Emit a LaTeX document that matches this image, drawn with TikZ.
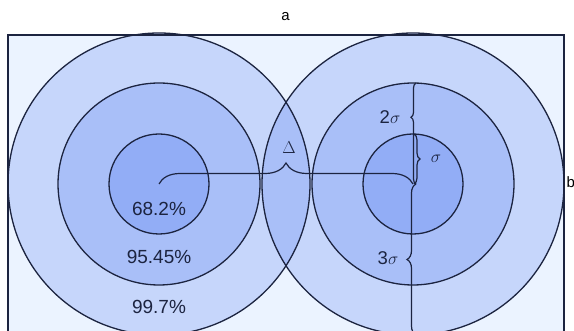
\documentclass[tikz,border=0pt]{standalone}
\usepackage{fontspec}
\setmainfont{Liberation Sans}
\usetikzlibrary{decorations.pathreplacing, calc}
\definecolor{gsink}{HTML}{1C2440}
\definecolor{gsdisc}{HTML}{436FF1}
\definecolor{gsback}{HTML}{EBF3FF}

\begin{document}
\begin{tikzpicture}[x=1pt, y=-1pt, line width=1.3pt,
      disc/.style={fill=gsdisc, fill opacity=.22},
      rim/.style={draw=gsink},
      pct/.style={font=\fontsize{19}{22}\selectfont, text=gsink, inner sep=0pt},
      grk/.style={font=\fontsize{18.5}{21}\selectfont, text=gsink, inner sep=0pt},
      axl/.style={font=\fontsize{15}{18}\selectfont, text=black, inner sep=0pt},
      brc/.style={draw=gsink, line width=1.2pt, decorate, decoration={brace, amplitude=#1}},
      brc/.default=6]

      \useasboundingbox (0,0) rectangle (574,331);
      \fill[gsback] (8,35) rectangle (564,345);

      \coordinate (lc) at (159,184);
      \coordinate (rc) at (413,184);
      \foreach \c in {lc,rc} \foreach \r in {151,101,50} \fill[disc] (\c) circle (\r);
      \foreach \c in {lc,rc} \foreach \r in {151,101,50} \draw[rim] (\c) circle (\r);
      \draw[gsink, line width=1.8pt] (8,345) |- (564,35) -- (564,345);

      \coordinate (rcw) at ($(rc)+(3,0)$);
      \coordinate (mtop) at ($(rc)+(3,-101)$);
      \coordinate (itop) at ($(rc)+(1,-50)$);
      \coordinate (icen) at ($(rc)+(1,0)$);
      \coordinate (obot) at ($(rc)+(3,151)$);

      \draw[brc=21] (lc) -- (rc);
      \draw[brc=5, decoration={aspect=.66}] (rcw) -- (mtop);
      \draw[brc=6] (itop) -- (icen);
      \draw[brc=9] (obot) -- (rcw);

      \node[axl] (xa) at (285.5,17) {a};
      \node[axl, anchor=west] (yb) at (566,182) {b};
      \node[pct] (p68) at (159,209) {68.2\%};
      \node[pct] (p95) at (159,257) {95.45\%};
      \node[pct] (p99) at (159,307) {99.7\%};
      \node[grk] (dl) at (289,148) {$\Delta$};
      \node[grk] (s2) at (390,117) {2$\sigma$};
      \node[grk] (s1) at (436,159) {$\sigma$};
      \node[grk] (s3) at (388,258) {3$\sigma$};
    \end{tikzpicture}
\end{document}
